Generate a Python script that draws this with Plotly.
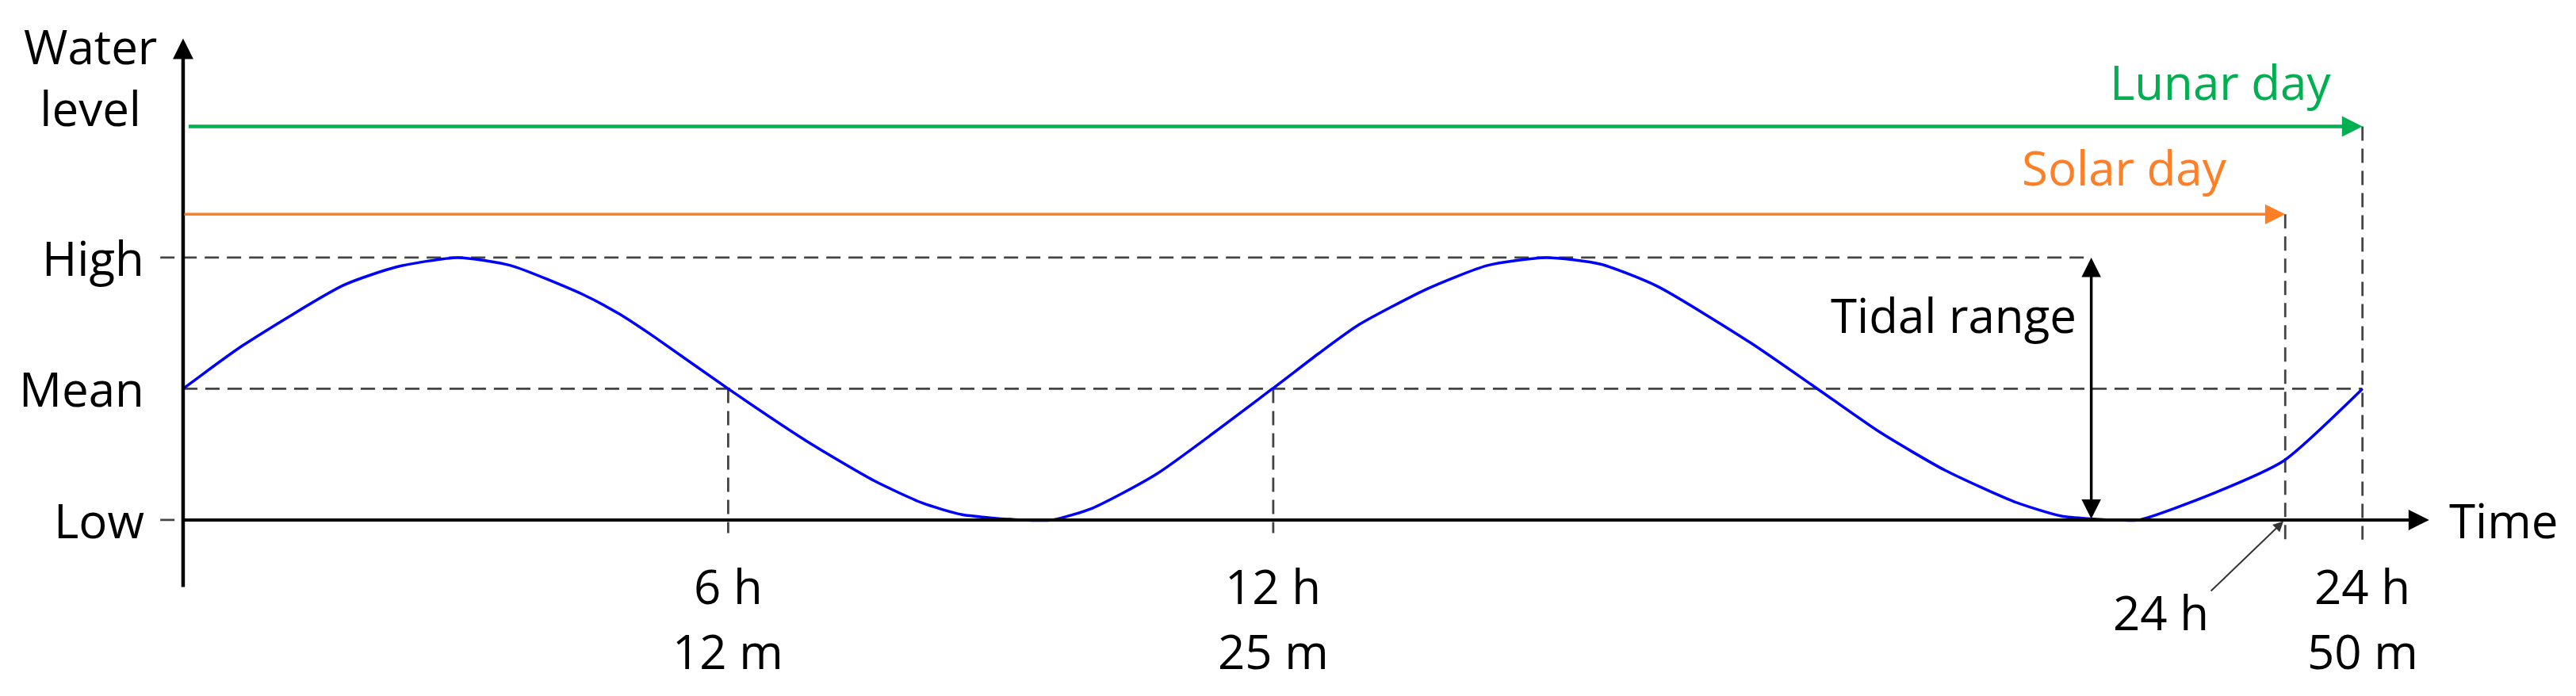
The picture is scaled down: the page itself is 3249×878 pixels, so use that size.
import plotly.graph_objects as go

# tide curve (hours after start, level: 0 = Low, 1 = Mean, 2 = High)
hours = [0, 0.68, 1.83, 2.44, 3.13, 3.73, 4.55, 4.97, 5.38, 6.21, 7.13, 7.87, 8.42, 8.88,
         9.55, 9.90, 10.36, 11.09, 12.41, 12.94, 13.40, 14.17, 14.86, 15.53, 16.15, 16.80,
         17.86, 18.62, 19.33, 20.07, 20.86, 21.40, 21.97, 22.28, 23.12, 23.93, 24.83]
level = [1.0, 1.33, 1.79, 1.93, 2.0, 1.94, 1.72, 1.57, 1.39, 1.0, 0.59, 0.30, 0.13, 0.04,
         0.0, 0.0, 0.09, 0.35, 1.0, 1.27, 1.49, 1.76, 1.94, 2.0, 1.95, 1.78,
         1.35, 1.0, 0.67, 0.38, 0.14, 0.03, 0.0, 0.0, 0.20, 0.45, 1.0]

level_names = ["Low", "Mean", "High"]
level_values = [0, 1, 2]

tick_hours = [6.21, 12.42, 24.83]
tick_hour_text = ["6 h", "12 h", "24 h"]
tick_min_text = ["12 m", "25 m", "50 m"]

solar_day = 23.95
lunar_day = 24.83
lunar_level = 3.0
solar_level = 2.33
tidal_range_at = 21.74

FONT = "Open Sans"
GREEN = "#00B050"
ORANGE = "#FF7F27"
DASH = dict(color="#444444", width=2.8, dash="18px,10px")

fig = go.Figure()
fig.add_trace(go.Scatter(x=hours, y=level, mode="lines",
                         line=dict(color="#0000FF", width=3.5, shape="spline", smoothing=0.6),
                         hoverinfo="skip"))

shapes = []
def dline(x0, y0, x1, y1):
    shapes.append(dict(type="line", xref="x", yref="y", x0=x0, y0=y0, x1=x1, y1=y1,
                       line=DASH, layer="below"))

dline(-0.26, 2, tidal_range_at, 2)
dline(0, 1, lunar_day, 1)
dline(-0.26, 0, 0, 0)
for t in tick_hours[:2]:
    dline(t, 1, t, -0.1)
dline(solar_day, solar_level, solar_day, -0.16)
dline(lunar_day, lunar_level, lunar_day, -0.15)

ann = []
def arrow(x, y, ax, ay, color, width, size, side="end"):
    ann.append(dict(x=x, y=y, ax=ax, ay=ay, xref="x", yref="y", axref="x", ayref="y",
                    text="", showarrow=True, arrowhead=2, startarrowhead=2, arrowside=side,
                    arrowwidth=width, arrowsize=size, startarrowsize=size, arrowcolor=color))

def label(x, y, text, color="black", xanchor="center"):
    ann.append(dict(x=x, y=y, xref="x", yref="y", text=text, showarrow=False,
                    xanchor=xanchor, yanchor="middle",
                    font=dict(family=FONT, size=60, color=color)))

# axes
arrow(0, 3.67, 0, -0.52, "black", 4.5, 1.15)
arrow(25.59, 0, 0, 0, "black", 4, 1.3)
# day arrows
arrow(lunar_day, lunar_level, 0.05, lunar_level, GREEN, 4.5, 1.15)
arrow(solar_day, solar_level, 0, solar_level, ORANGE, 3.5, 1.45)
# tidal range
arrow(tidal_range_at, 2, tidal_range_at, 0, "black", 3.5, 1.4, side="end+start")
# leader for solar 24 h
arrow(solar_day - 0.02, -0.01, 23.09, -0.55, "#333333", 2, 1.3)

label(-1.06, 3.38, "Water<br>level")
for name, v in zip(level_names, level_values):
    label(-0.42, v, name, xanchor="right")
label(25.8, 0, "Time", xanchor="left")
label(24.49, 3.34, "Lunar day", GREEN, xanchor="right")
label(23.31, 2.69, "Solar day", ORANGE, xanchor="right")
label(21.59, 1.565, "Tidal range", xanchor="right")
label(22.53, -0.70, "24 h")
for t, a, b in zip(tick_hours, tick_hour_text, tick_min_text):
    label(t, -0.5, a)
    label(t, -1.0, b)

fig.update_layout(
    width=3249, height=878,
    margin=dict(l=0, r=0, t=0, b=0),
    paper_bgcolor="white", plot_bgcolor="white",
    showlegend=False,
    xaxis=dict(visible=False, range=[-2.014, 27.335]),
    yaxis=dict(visible=False, range=[-1.390, 3.915]),
    shapes=shapes, annotations=ann,
)
fig.write_html("out.html")
